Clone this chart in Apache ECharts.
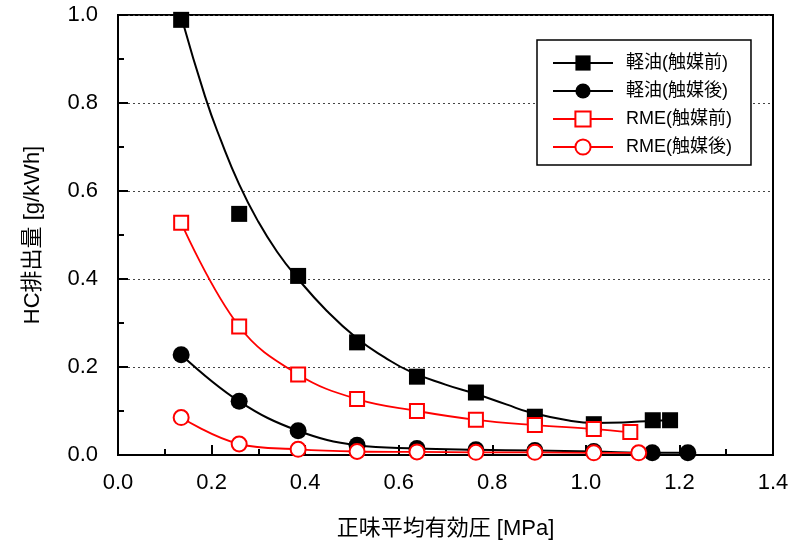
<!DOCTYPE html>
<html>
<head>
<meta charset="utf-8">
<script src="https://cdn.jsdelivr.net/npm/echarts@6/dist/echarts.min.js"></script>
<style>
  html, body { margin: 0; padding: 0; background: #fff; overflow: hidden; }
  #chart { width: 794px; height: 546px; }
</style>
</head>
<body>
<div id="chart"></div>
<script>
// Brake mean effective pressure [MPa] and HC emissions [g/kWh]
const seriesNames = ['軽油(触媒前)', '軽油(触媒後)', 'RME(触媒前)', 'RME(触媒後)'];

const xDieselPre  = [0.135, 0.259, 0.385, 0.511, 0.639, 0.765, 0.891, 1.017, 1.143, 1.180];
const yDieselPre  = [0.989, 0.548, 0.407, 0.256, 0.178, 0.142, 0.087, 0.070, 0.079, 0.079];

// trend curve drawn through the diesel (pre-catalyst) measurements
const xDieselPreFit = [0.137, 0.186, 0.220, 0.259, 0.300, 0.340, 0.382, 0.446, 0.510, 0.570, 0.624, 0.700, 0.767, 0.830, 0.880, 0.966, 1.017, 1.080, 1.143, 1.180];
const yDieselPreFit = [0.989, 0.815, 0.715, 0.615, 0.530, 0.462, 0.404, 0.328, 0.266, 0.222, 0.190, 0.160, 0.138, 0.115, 0.097, 0.078, 0.073, 0.074, 0.078, 0.079];

const xDieselPost = [0.135, 0.259, 0.385, 0.511, 0.639, 0.765, 0.891, 1.017, 1.142, 1.218];
const yDieselPost = [0.228, 0.122, 0.055, 0.022, 0.015, 0.012, 0.010, 0.008, 0.005, 0.005];

const xRmePre     = [0.135, 0.259, 0.385, 0.511, 0.639, 0.765, 0.891, 1.017, 1.095];
const yRmePre     = [0.528, 0.292, 0.183, 0.127, 0.100, 0.080, 0.068, 0.059, 0.052];

const xRmePost    = [0.135, 0.259, 0.385, 0.511, 0.639, 0.765, 0.891, 1.017, 1.113];
const yRmePost    = [0.085, 0.025, 0.013, 0.008, 0.007, 0.006, 0.006, 0.005, 0.005];

const xTicks = [0.0, 0.2, 0.4, 0.6, 0.8, 1.0, 1.2, 1.4];
const yTicks = [0.0, 0.2, 0.4, 0.6, 0.8, 1.0];

const pairs = (xs, ys) => xs.map((x, i) => [x, ys[i]]);

const FONT = '"Liberation Sans", Arial, "Noto Sans CJK JP", sans-serif';
const chart = echarts.init(document.getElementById('chart'), null, { renderer: 'canvas', width: 794, height: 546 });

const axisCommon = {
  axisLine: { show: true, lineStyle: { color: '#000', width: 2 } },
  axisTick: { show: true, inside: true, length: 10, lineStyle: { color: '#000', width: 2 } },
  minorTick: { show: true, splitNumber: 2, length: 6, lineStyle: { color: '#000', width: 2 } },
  axisLabel: { color: '#000', fontSize: 22, fontFamily: FONT, formatter: v => v.toFixed(1) },
  nameTextStyle: { color: '#000', fontSize: 22, fontFamily: FONT }
};

chart.setOption({
  animation: false,
  backgroundColor: '#fff',
  grid: { left: 118, right: 21, top: 15, bottom: 91, show: true, borderColor: '#000', borderWidth: 2, backgroundColor: 'transparent' },
  xAxis: Object.assign({}, axisCommon, {
    type: 'value',
    min: xTicks[0], max: xTicks[xTicks.length - 1], interval: 0.2,
    name: '正味平均有効圧 [MPa]', nameLocation: 'middle', nameGap: 63,
    axisLabel: Object.assign({}, axisCommon.axisLabel, { margin: 17 }),
    splitLine: { show: false }
  }),
  yAxis: Object.assign({}, axisCommon, {
    type: 'value',
    min: yTicks[0], max: yTicks[yTicks.length - 1], interval: 0.2,
    name: 'HC排出量 [g/kWh]', nameLocation: 'middle', nameGap: 74, nameRotate: 90,
    axisLabel: Object.assign({}, axisCommon.axisLabel, { margin: 20 }),
    splitLine: { show: true, lineStyle: { color: '#444', width: 1, type: [2, 3] } }
  }),
  legend: {
    orient: 'vertical',
    left: 537, top: 40,
    itemWidth: 60, itemHeight: 19, itemGap: 10,
    padding: [14, 19, 9, 15],
    backgroundColor: '#fff',
    borderColor: '#000', borderWidth: 1.5, borderRadius: 0,
    selectedMode: false,
    textStyle: { color: '#000', fontSize: 18, fontFamily: FONT, padding: [0, 0, 0, 8] },
    data: [
      { name: seriesNames[0], lineStyle: { color: '#000', width: 2, opacity: 1 } },
      { name: seriesNames[1] },
      { name: seriesNames[2] },
      { name: seriesNames[3] }
    ]
  },
  series: [
    {
      name: 'trend', type: 'line', data: pairs(xDieselPreFit, yDieselPreFit),
      smooth: 0.5, showSymbol: false, symbol: 'none',
      lineStyle: { color: '#000', width: 2 }, z: 2, silent: true
    },
    {
      name: seriesNames[0], type: 'line', data: pairs(xDieselPre, yDieselPre),
      symbol: 'rect', symbolSize: 16,
      itemStyle: { color: '#000', borderColor: '#000', borderWidth: 0 },
      lineStyle: { color: '#000', width: 2, opacity: 0 }, z: 3
    },
    {
      name: seriesNames[1], type: 'line', data: pairs(xDieselPost, yDieselPost),
      smooth: 0.4,
      symbol: 'circle', symbolSize: 17,
      itemStyle: { color: '#000', borderColor: '#000', borderWidth: 0 },
      lineStyle: { color: '#000', width: 2 }, z: 4
    },
    {
      name: seriesNames[2], type: 'line', data: pairs(xRmePre, yRmePre),
      smooth: 0.4,
      symbol: 'rect', symbolSize: 14,
      itemStyle: { color: '#fff', borderColor: '#f00', borderWidth: 2 },
      lineStyle: { color: '#f00', width: 1.8 }, z: 5
    },
    {
      name: seriesNames[3], type: 'line', data: pairs(xRmePost, yRmePost),
      smooth: 0.4,
      symbol: 'circle', symbolSize: 15,
      itemStyle: { color: '#fff', borderColor: '#f00', borderWidth: 2 },
      lineStyle: { color: '#f00', width: 1.8 }, z: 6
    }
  ]
});
</script>
</body>
</html>
